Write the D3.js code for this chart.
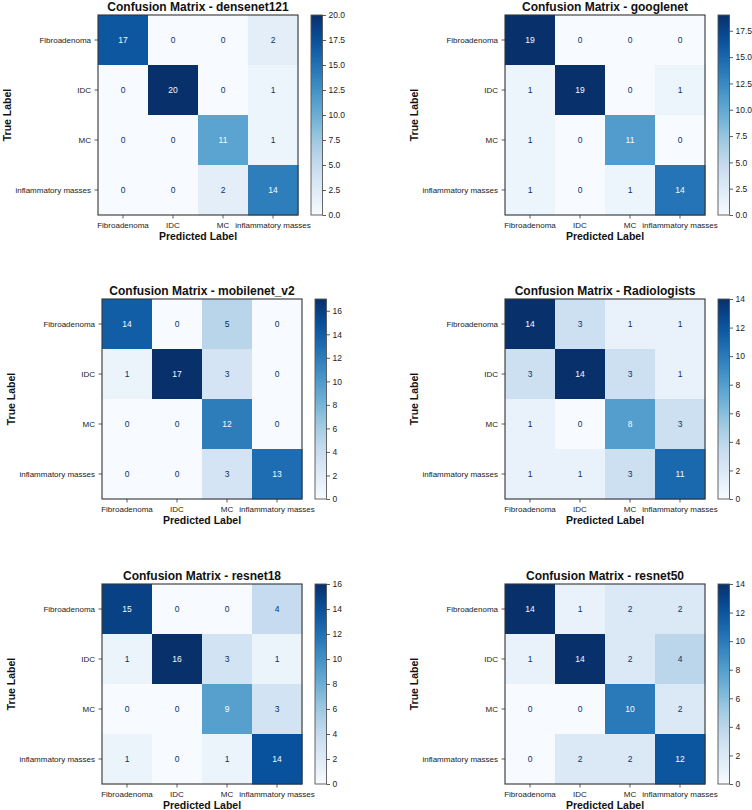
<!DOCTYPE html>
<html>
<head>
<meta charset="utf-8">
<script src="https://cdn.jsdelivr.net/npm/d3@7/dist/d3.min.js"></script>
<style>
  html, body { margin: 0; padding: 0; background: #fff; }
  svg { display: block; font-family: "Liberation Sans", Arial, sans-serif; }
</style>
</head>
<body>
<svg id="chart" width="752" height="810"></svg>
<script>
// ---------------- data ----------------
const classes = ["Fibroadenoma", "IDC", "MC", "inflammatory masses"];
const modelNames = ["densenet121", "googlenet", "mobilenet_v2", "Radiologists", "resnet18", "resnet50"];

const cmDensenet121 = [[17, 0, 0, 2], [0, 20, 0, 1], [0, 0, 11, 1], [0, 0, 2, 14]];
const cmGooglenet   = [[19, 0, 0, 0], [1, 19, 0, 1], [1, 0, 11, 0], [1, 0, 1, 14]];
const cmMobilenetV2 = [[14, 0, 5, 0], [1, 17, 3, 0], [0, 0, 12, 0], [0, 0, 3, 13]];
const cmRadiologists = [[14, 3, 1, 1], [3, 14, 3, 1], [1, 0, 8, 3], [1, 1, 3, 11]];
const cmResnet18    = [[15, 0, 0, 4], [1, 16, 3, 1], [0, 0, 9, 3], [1, 0, 1, 14]];
const cmResnet50    = [[14, 1, 2, 2], [1, 14, 2, 4], [0, 0, 10, 2], [0, 2, 2, 12]];

const ticksDensenet121 = [0, 2.5, 5, 7.5, 10, 12.5, 15, 17.5, 20];
const ticksGooglenet   = [0, 2.5, 5, 7.5, 10, 12.5, 15, 17.5];
const ticksMobilenetV2 = [0, 2, 4, 6, 8, 10, 12, 14, 16];
const ticksRadiologists = [0, 2, 4, 6, 8, 10, 12, 14];
const ticksResnet18    = [0, 2, 4, 6, 8, 10, 12, 14, 16];
const ticksResnet50    = [0, 2, 4, 6, 8, 10, 12, 14];

const matrices = [cmDensenet121, cmGooglenet, cmMobilenetV2, cmRadiologists, cmResnet18, cmResnet50];
const tickSets = [ticksDensenet121, ticksGooglenet, ticksMobilenetV2, ticksRadiologists, ticksResnet18, ticksResnet50];

// ---------------- layout (heatmap top-left corners) ----------------
const layout = [
  { hx: 98,  hy: 15 },
  { hx: 505, hy: 15 },
  { hx: 102, hy: 299 },
  { hx: 505, hy: 299 },
  { hx: 102, hy: 584 },
  { hx: 505, hy: 584 }
];
const size = 200;

// matplotlib "Blues" (linear segmented over ColorBrewer stops)
const bluesStops = ["#f7fbff", "#deebf7", "#c6dbef", "#9ecae1", "#6baed6", "#4292c6", "#2171b5", "#08519c", "#08306b"];
function makeCmap() {
  return d3.scaleLinear()
    .domain(d3.range(bluesStops.length).map(i => i / (bluesStops.length - 1)))
    .range(bluesStops)
    .interpolate(d3.interpolateRgb)
    .clamp(true);
}
const cmap = makeCmap();

const svg = d3.select("#chart");
const defs = svg.append("defs");

matrices.forEach((cm, idx) => {
  const { hx, hy } = layout[idx];
  const flat = cm.flat();
  const vmin = d3.min(flat), vmax = d3.max(flat);
  const norm = d3.scaleLinear().domain([vmin, vmax]).range([0, 1]);
  const color = v => cmap(norm(v));
  const thresh = (vmax + vmin) / 2;

  const x = d3.scaleBand().domain(classes).range([0, size]);
  const y = d3.scaleBand().domain(classes).range([0, size]);

  const g = svg.append("g").attr("transform", `translate(${hx},${hy})`);

  // cells
  const cells = [];
  cm.forEach((row, i) => row.forEach((v, j) => cells.push({ t: classes[i], p: classes[j], v })));
  g.selectAll("rect.cell").data(cells).join("rect")
    .attr("class", "cell")
    .attr("x", d => x(d.p))
    .attr("y", d => y(d.t))
    .attr("width", x.bandwidth() + 0.5)
    .attr("height", y.bandwidth() + 0.5)
    .attr("fill", d => color(d.v));

  g.selectAll("text.val").data(cells).join("text")
    .attr("class", "val")
    .attr("x", d => x(d.p) + x.bandwidth() / 2)
    .attr("y", d => y(d.t) + y.bandwidth() / 2)
    .attr("dy", "0.35em")
    .attr("text-anchor", "middle")
    .attr("font-size", 8.5)
    .attr("fill", d => d.v < thresh ? cmap(1) : cmap(0))
    .text(d => d.v);

  // frame
  g.append("rect").attr("width", size).attr("height", size)
    .attr("fill", "none").attr("stroke", "#333").attr("stroke-width", 1.1);

  // axes
  const xAxis = g.append("g").attr("transform", `translate(0,${size})`)
    .call(d3.axisBottom(x).tickSize(3.5).tickPadding(3.5));
  const yAxis = g.append("g")
    .call(d3.axisLeft(y).tickSize(3.5).tickPadding(3.5));
  [xAxis, yAxis].forEach(a => {
    a.select(".domain").remove();
    a.selectAll(".tick line").attr("stroke", "#333").attr("stroke-width", 0.8);
    a.selectAll(".tick text").attr("font-size", 8).attr("fill", "#222")
      .attr("font-family", "'Liberation Sans', Arial, sans-serif");
  });

  // title & labels
  g.append("text").attr("x", size / 2).attr("y", -4)
    .attr("text-anchor", "middle").attr("font-size", 12).attr("font-weight", "bold")
    .attr("fill", "#111").text("Confusion Matrix - " + modelNames[idx]);
  g.append("text").attr("x", size / 2).attr("y", size + 25)
    .attr("text-anchor", "middle").attr("font-size", 10.5).attr("font-weight", "bold")
    .attr("fill", "#111").text("Predicted Label");
  g.append("text")
    .attr("transform", `translate(-87.5,${size / 2}) rotate(-90)`)
    .attr("text-anchor", "middle").attr("font-size", 10.5).attr("font-weight", "bold")
    .attr("fill", "#111").text("True Label");

  // colorbar
  const cbX = 213, cbW = 11.5;
  const cy = d3.scaleLinear().domain([vmin, vmax]).range([size, 0]);
  const gid = "cbgrad" + idx;
  const grad = defs.append("linearGradient").attr("id", gid)
    .attr("x1", 0).attr("y1", 1).attr("x2", 0).attr("y2", 0);
  d3.range(0, 1.0001, 0.05).forEach(t => {
    grad.append("stop").attr("offset", t).attr("stop-color", cmap(t));
  });
  const cb = g.append("g").attr("transform", `translate(${cbX},0)`);
  cb.append("rect").attr("width", cbW).attr("height", size).attr("fill", `url(#${gid})`);
  cb.append("rect").attr("width", cbW).attr("height", size)
    .attr("fill", "none").attr("stroke", "#555").attr("stroke-width", 0.9);
  const ticks = tickSets[idx];
  const frac = ticks.some(t => t % 1 !== 0);
  const cbAxis = cb.append("g").attr("transform", `translate(${cbW},0)`)
    .call(d3.axisRight(cy).tickValues(ticks).tickSize(3.5).tickPadding(2.5)
      .tickFormat(frac ? d3.format(".1f") : d3.format("d")));
  cbAxis.select(".domain").remove();
  cbAxis.selectAll(".tick line").attr("stroke", "#333").attr("stroke-width", 0.8);
  cbAxis.selectAll(".tick text").attr("font-size", 8.5).attr("fill", "#222")
    .attr("font-family", "'Liberation Sans', Arial, sans-serif");
});
</script>
</body>
</html>
